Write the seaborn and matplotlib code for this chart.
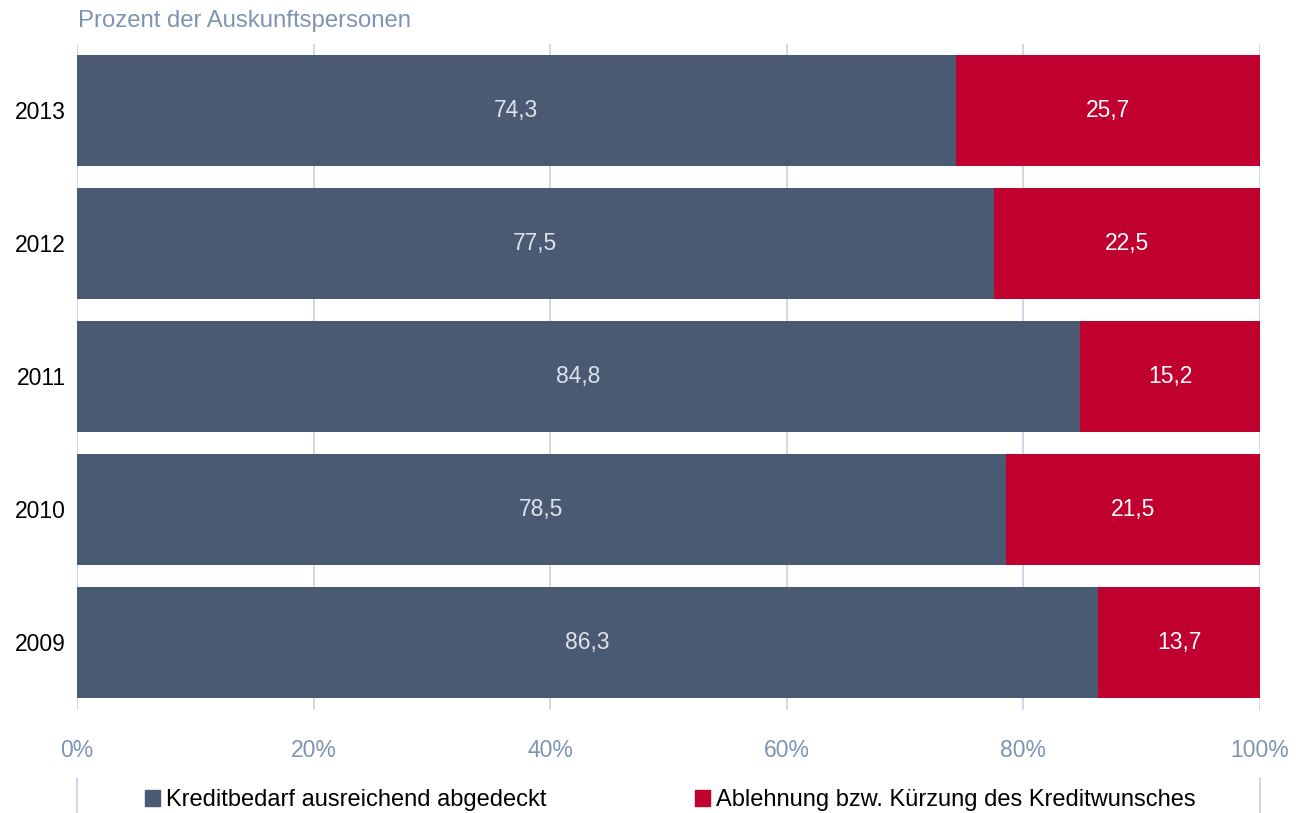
import pandas as pd
import seaborn as sns
import matplotlib.pyplot as plt
from matplotlib.patches import Patch
from matplotlib.lines import Line2D

years = ['2013', '2012', '2011', '2010', '2009']
abgedeckt = [74.3, 77.5, 84.8, 78.5, 86.3]
abgelehnt = [25.7, 22.5, 15.2, 21.5, 13.7]
xticks = [0, 20, 40, 60, 80, 100]
xticklabels = ['0%', '20%', '40%', '60%', '80%', '100%']
series = ['Kreditbedarf ausreichend abgedeckt', 'Ablehnung bzw. Kürzung des Kreditwunsches']

df = pd.DataFrame({'jahr': years, 'abgedeckt': abgedeckt, 'abgelehnt': abgelehnt})
df['gesamt'] = df['abgedeckt'] + df['abgelehnt']

sns.set_style('white')
plt.rcParams['font.family'] = ['Liberation Sans', 'DejaVu Sans']

dunkel = '#4a5a72'
rot = '#c0002f'
grid_c = '#c6d2e4'
tick_c = '#8093b4'

fig = plt.figure(figsize=(13.04, 8.13), dpi=100)
ax = fig.add_axes([77/1304, 1-710/813, (1260-77)/1304, (710-44)/813])

# gestapelt: erst die Gesamtlänge in Rot, dann der abgedeckte Teil darüber
sns.barplot(data=df, x='gesamt', y='jahr', orient='h', color=rot, width=0.835,
            saturation=1, linewidth=0, ax=ax, zorder=2)
sns.barplot(data=df, x='abgedeckt', y='jahr', orient='h', color=dunkel, width=0.835,
            saturation=1, linewidth=0, ax=ax, zorder=3)

for i, (a, b) in enumerate(zip(abgedeckt, abgelehnt)):
    ax.text(a/2, i, f'{a:.1f}'.replace('.', ','), ha='center', va='center',
            color='#dde1ea', fontsize=16.5, zorder=4)
    ax.text(a + b/2, i, f'{b:.1f}'.replace('.', ','), ha='center', va='center',
            color='white', fontsize=16.5, zorder=4)

ax.set_xlim(0, 100)
ax.set_ylim(4.51, -0.5)
ax.set_xticks(xticks)
ax.set_xticklabels(xticklabels)
ax.xaxis.grid(True, color=grid_c, linewidth=1.2, zorder=0)
ax.set_axisbelow(True)
ax.tick_params(axis='x', colors=tick_c, labelsize=16.5, length=0, pad=21)
ax.tick_params(axis='y', labelsize=16.5, length=0, pad=8, labelcolor='black')
ax.set_xlabel('')
ax.set_ylabel('')
for s in ax.spines.values():
    s.set_visible(False)

fig.text(78/1304, 1-21/813, 'Prozent der Auskunftspersonen', color=tick_c,
         fontsize=17.2, ha='left', va='center')

# kleine Rahmenstriche um die Legende
for xp in (77/1304, 1260/1304):
    fig.add_artist(Line2D([xp, xp], [0, 1-778/813], color=grid_c, linewidth=1.2))

handles = [Patch(color=dunkel), Patch(color=rot)]
leg = fig.legend(handles, series, loc='center', bbox_to_anchor=(0.514, 1-800/813), ncol=2,
                 frameon=False, fontsize=17, handlelength=0.65, handleheight=0.65,
                 handletextpad=0.25, columnspacing=6.3, borderaxespad=0)
for t in leg.get_texts():
    t.set_color('black')

fig.savefig('out.png', dpi=100)
